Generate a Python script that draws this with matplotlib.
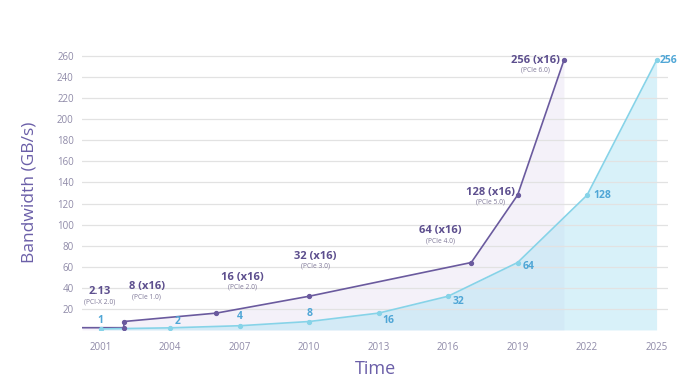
import matplotlib
matplotlib.use("Agg")
import matplotlib.pyplot as plt

plt.rcParams['font.family'] = ['Open Sans', 'DejaVu Sans']

# ---- data ----
pcie_years = [2000.2, 2002, 2002, 2006, 2010, 2017, 2019, 2021]
pcie_values = [2.13, 2.13, 8, 16, 32, 64, 128, 256]
pcie_marker_idx = [1, 2, 3, 4, 5, 6, 7]
pcie_labels = ["2.13", "8 (x16)", "16 (x16)", "32 (x16)", "64 (x16)", "128 (x16)", "256 (x16)"]
pcie_sublabels = ["(PCI-X 2.0)", "(PCIe 1.0)", "(PCIe 2.0)", "(PCIe 3.0)", "(PCIe 4.0)", "(PCIe 5.0)", "(PCIe 6.0)"]

x1_years = [2001, 2004, 2007, 2010, 2013, 2016, 2019, 2022, 2025]
x1_values = [1, 2, 4, 8, 16, 32, 64, 128, 256]
x1_labels = ["1", "2", "4", "8", "16", "32", "64", "128", "256"]

xticks = [2001, 2004, 2007, 2010, 2013, 2016, 2019, 2022, 2025]
yticks = [20, 40, 60, 80, 100, 120, 140, 160, 180, 200, 220, 240, 260]

# ---- style ----
PURPLE = "#6a5a9e"
PURPLE_TXT = "#5d4f8e"
CYAN = "#86d3e8"
CYAN_TXT = "#4fa6d6"
TICK = "#8f8aa8"

fig = plt.figure(figsize=(6.96, 3.85), dpi=100)
ax = fig.add_axes([0.118, 0.143, 0.842, 0.717])

ax.fill_between(pcie_years, pcie_values, 0, color="#f4f1f9", zorder=1, lw=0)
ax.fill_between(x1_years, x1_values, 0, color="#b8e6f5", alpha=0.55, zorder=1.2, lw=0)

ax.plot(pcie_years, pcie_values, color=PURPLE, lw=1.2, zorder=3)
ax.plot([pcie_years[i] for i in pcie_marker_idx], [pcie_values[i] for i in pcie_marker_idx],
        'o', color=PURPLE, ms=2.8, zorder=4)
ax.plot(x1_years, x1_values, color=CYAN, lw=1.2, zorder=3)
ax.plot(x1_years, x1_values, 'o', color=CYAN, ms=2.8, zorder=4)

# purple annotations (offsets in pixels)
p_off = [(-24, 36), (23, 35), (26, 36), (6, 40), (-31, 32), (-27, 3), (-28, 0)]
for k, i in enumerate(pcie_marker_idx):
    x, y = pcie_years[i], pcie_values[i]
    dx, dy = p_off[k]
    ax.annotate(pcie_labels[k], (x, y), xytext=(dx, dy), textcoords='offset pixels',
                ha='center', va='center', fontsize=8, fontweight='bold', color=PURPLE_TXT, zorder=5)
    ax.annotate(pcie_sublabels[k], (x, y), xytext=(dx, dy - 10), textcoords='offset pixels',
                ha='center', va='center', fontsize=4.8, color="#7f7898", zorder=5)

# cyan annotations
c_off = [(0, 8, 'center'), (4, 6, 'left'), (0, 9, 'center'), (0, 8, 'center'),
         (4, -7, 'left'), (5, -5, 'left'), (5, -4, 'left'), (6, 0, 'left'), (3, 0, 'left')]
for k in range(len(x1_years)):
    dx, dy, ha = c_off[k]
    ax.annotate(x1_labels[k], (x1_years[k], x1_values[k]), xytext=(dx, dy),
                textcoords='offset pixels', ha=ha, va='center', fontsize=7.5,
                fontweight='bold', color=CYAN_TXT, zorder=5)

ax.set_xlim(2000.2, 2025.5)
ax.set_ylim(0, 262)
ax.set_xticks(xticks)
ax.set_yticks(yticks)
ax.tick_params(axis='both', length=0, labelsize=7, colors=TICK)
ax.tick_params(axis='x', pad=9)
ax.tick_params(axis='y', pad=6)
ax.yaxis.grid(True, color="#e2e2e2", lw=0.9)
ax.set_axisbelow(False)
for s in ax.spines.values():
    s.set_visible(False)

ax.set_ylabel("Bandwidth (GB/s)", fontsize=12.5, color="#6b5fa8", labelpad=14)
ax.set_xlabel("Time", fontsize=13, color="#6b5fa8", labelpad=5)

fig.savefig("out.png", dpi=100)
